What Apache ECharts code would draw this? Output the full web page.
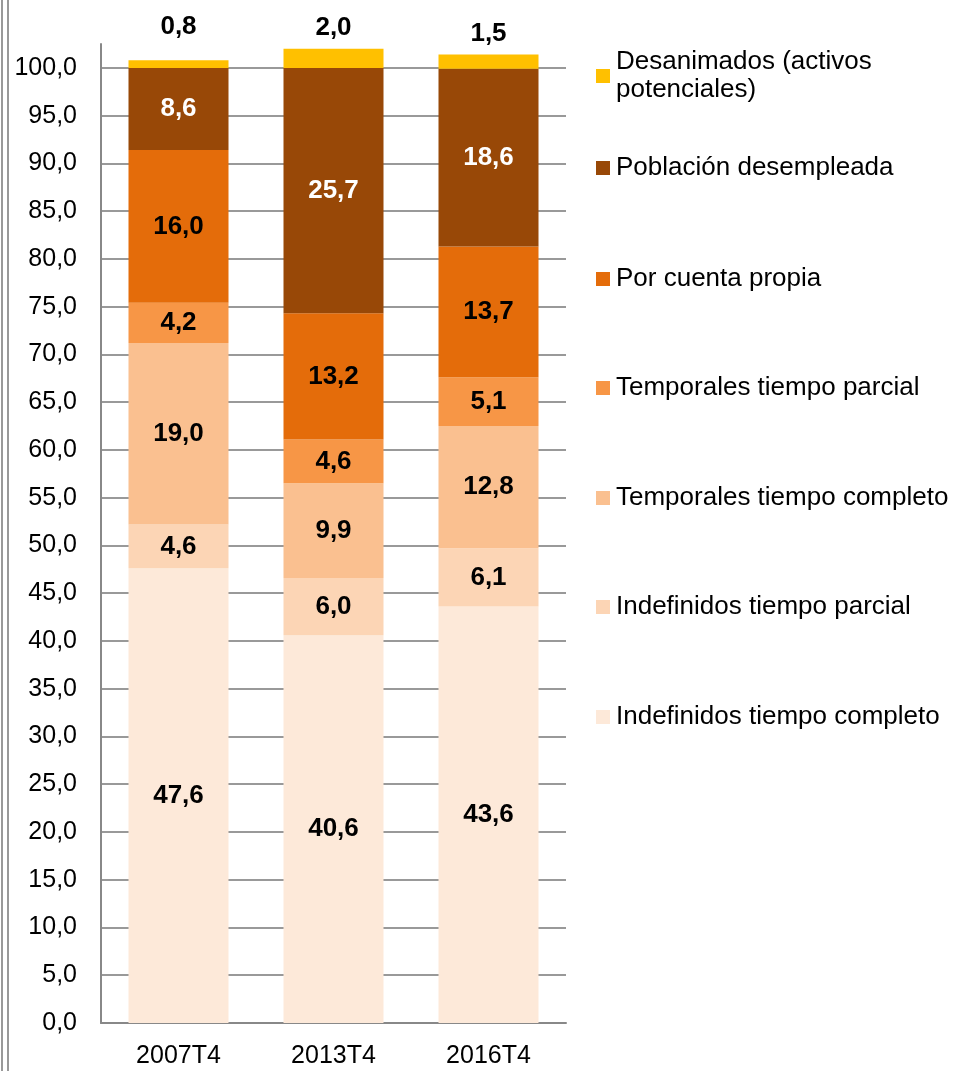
<!DOCTYPE html>
<html lang="es">
<head>
    <meta charset="UTF-8">
    <title>Ocupados por tipo de contrato</title>
    <script src="https://cdn.jsdelivr.net/npm/echarts@6/dist/echarts.min.js"></script>
    <style>
        html, body { margin: 0; padding: 0; background: #ffffff; }
        #chart { width: 960px; height: 1071px; }
    </style>
</head>
<body>
<div id="chart"></div>
<script>
    // categorias y series (de abajo hacia arriba)
    var categorias = ['2007T4', '2013T4', '2016T4'];
    var nombres = [
        'Indefinidos tiempo completo',
        'Indefinidos tiempo parcial',
        'Temporales tiempo completo',
        'Temporales tiempo parcial',
        'Por cuenta propia',
        'Población desempleada',
        'Desanimados (activos potenciales)'
    ];
    var indefCompleto = [47.6, 40.6, 43.6];
    var indefParcial = [4.6, 6.0, 6.1];
    var tempCompleto = [19.0, 9.9, 12.8];
    var tempParcial = [4.2, 4.6, 5.1];
    var cuentaPropia = [16.0, 13.2, 13.7];
    var desempleada = [8.6, 25.7, 18.6];
    var desanimados = [0.8, 2.0, 1.5];

    var valores = [indefCompleto, indefParcial, tempCompleto, tempParcial, cuentaPropia, desempleada, desanimados];
    var colores = ['#FDE9D9', '#FCD5B5', '#FAC090', '#F79646', '#E46C0A', '#984807', '#FFC000'];

    // separación de las etiquetas de la serie superior (como en el original)
    var distEtiquetaSup = [20, 8, 8];

    var fuente = '"Liberation Sans", Arial, sans-serif';

    function coma(v, dec) {
        return Number(v).toFixed(dec).replace('.', ',');
    }

    var series = valores.map(function (datos, i) {
        var ultimo = i === valores.length - 1;
        var etiqueta = {
            show: true,
            position: ultimo ? 'top' : 'inside',
            distance: 0,
            formatter: function (p) { return coma(p.value, 1); },
            fontFamily: fuente,
            fontWeight: 'bold',
            fontSize: 26,
            color: i === 5 ? '#ffffff' : '#000000'
        };
        return {
            name: nombres[i],
            type: 'bar',
            stack: 'total',
            barWidth: 100,
            clip: false,
            data: datos.map(function (v, j) {
                return ultimo ? { value: v, label: { distance: distEtiquetaSup[j] } } : v;
            }),
            itemStyle: { color: colores[i] },
            label: etiqueta
        };
    });

    // una leyenda por elemento, para poder separarlas como en el original
    var topsLeyenda = [703, 593, 484, 374, 265, 154, 48];
    var leyendas = nombres.map(function (n, i) {
        return {
            data: [n],
            left: 596,
            top: topsLeyenda[i],
            orient: 'vertical',
            icon: 'rect',
            itemWidth: 14,
            itemHeight: 14,
            itemGap: 0,
            padding: 0,
            selectedMode: false,
            formatter: function (name) {
                return name === 'Desanimados (activos potenciales)' ? 'Desanimados (activos\npotenciales)' : name;
            },
            textStyle: {
                fontFamily: fuente,
                fontSize: 26,
                color: '#000000',
                lineHeight: 28,
                padding: [0, 0, 0, 1]
            }
        };
    });

    var chart = echarts.init(document.getElementById('chart'));
    chart.setOption({
        animation: false,
        backgroundColor: '#ffffff',
        grid: { left: 101, right: 394, top: 44, bottom: 48 },
        legend: leyendas,
        xAxis: {
            type: 'category',
            data: categorias,
            axisLine: { lineStyle: { color: '#888888', width: 2 } },
            axisTick: { show: false },
            axisLabel: { fontFamily: fuente, fontSize: 25, color: '#000000', margin: 21 }
        },
        yAxis: {
            type: 'value',
            min: 0,
            max: 102.5,
            interval: 5,
            axisLine: { show: true, lineStyle: { color: '#888888', width: 2 } },
            axisTick: { show: false },
            axisLabel: {
                fontFamily: fuente, fontSize: 25, color: '#000000', margin: 24,
                showMaxLabel: false,
                formatter: function (v) { return v % 5 === 0 ? coma(v, 1) : ''; }
            },
            splitLine: { show: true, showMaxLine: false, lineStyle: { color: '#999999', width: 2 } }
        },
        graphic: [
            { type: 'line', shape: { x1: 2, y1: 0, x2: 2, y2: 1071 }, style: { stroke: '#999999', lineWidth: 2 } },
            { type: 'line', shape: { x1: 8, y1: 0, x2: 8, y2: 1071 }, style: { stroke: '#999999', lineWidth: 2 } }
        ],
        series: series
    });
</script>
</body>
</html>
